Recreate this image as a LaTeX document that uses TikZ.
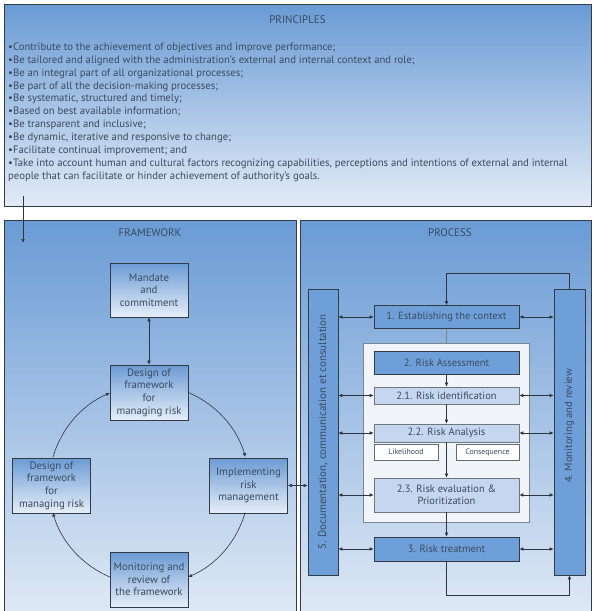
\documentclass[tikz,border=0pt]{standalone}
\usepackage{fontspec}
\setmainfont{PT Sans}
\usetikzlibrary{arrows.meta,calc}
\definecolor{txt}{HTML}{3B4A5F}
\definecolor{edge}{HTML}{333B47}
\definecolor{ptop}{HTML}{6A9BD5}
\definecolor{pbot}{HTML}{E2EBF6}
\definecolor{btop}{HTML}{6B9BD4}
\definecolor{bbot}{HTML}{E6EEF8}
\definecolor{midblue}{HTML}{6F9FD8}
\definecolor{lightblue}{HTML}{C4D7EE}
\definecolor{contfill}{HTML}{F1F5FA}
\definecolor{contedge}{HTML}{7D8590}
\definecolor{lineclr}{HTML}{2E3440}
\begin{document}
\begin{tikzpicture}[x=1pt,y=1pt,
  panel/.style={draw=edge,line width=0.9pt,top color=ptop,bottom color=pbot,inner sep=0pt},
  title/.style={text=txt,font=\fontsize{11}{13}\selectfont,inner sep=0pt},
  fbox/.style={draw=edge,line width=0.7pt,top color=btop,bottom color=bbot,minimum width=78pt,minimum height=55pt,inner sep=1pt,align=center,text=txt,font=\fontsize{10.8}{12.6}\selectfont},
  bar/.style={draw=edge,line width=0.7pt,fill=midblue,minimum width=30pt,minimum height=286pt,inner sep=0pt,text=txt,font=\fontsize{11}{12}\selectfont},
  darkbox/.style={draw=edge,line width=0.7pt,fill=midblue,minimum width=145pt,inner sep=0pt,text=txt,font=\fontsize{10.5}{12}\selectfont},
  lightbox/.style={draw=edge!70,line width=0.7pt,fill=lightblue,minimum width=145pt,inner sep=0pt,text=txt,align=center,font=\fontsize{10.5}{12.5}\selectfont},
  smallbox/.style={draw=edge!75,line width=0.6pt,fill=white,minimum height=16pt,inner sep=0pt,text=txt,font=\fontsize{7.9}{9}\selectfont},
  arr/.style={draw=lineclr,line width=0.6pt,-{Latex[length=4pt,width=3.6pt]}},
  darr/.style={draw=lineclr,line width=0.6pt,{Latex[length=4pt,width=3.6pt]}-{Latex[length=4pt,width=3.6pt]}},
  plain/.style={draw=contedge,line width=0.8pt}
]
\useasboundingbox (0,0) rectangle (595,-611);
\clip (0,0) rectangle (595,-611);

% ---------- PRINCIPLES ----------
\node[panel,minimum width=587pt,minimum height=202pt] (principles) at (297.5,-105) {};
\node[title] (ptitle) at (297.5,-20) {PRINCIPLES};
\node[anchor=north west,inner sep=0pt,align=left,text=txt,font=\fontsize{10.7}{12.9}\selectfont] (plist) at (8,-42.5) {%
\textbullet Contribute to the achievement of objectives and improve performance;\\
\textbullet Be tailored and aligned with the administration’s external and internal context and role;\\
\textbullet Be an integral part of all organizational processes;\\
\textbullet Be part of all the decision-making processes;\\
\textbullet Be systematic, structured and timely;\\
\textbullet Based on best available information;\\
\textbullet Be transparent and inclusive;\\
\textbullet Be dynamic, iterative and responsive to change;\\
\textbullet Facilitate continual improvement; and\\
\textbullet Take into account human and cultural factors recognizing capabilities, perceptions and intentions of external and internal\\
people that can facilitate or hinder achievement of authority’s goals.};

% ---------- FRAMEWORK ----------
\node[panel,minimum width=292pt,minimum height=405pt] (framework) at (150,-422.5) {};
\node[title] (ftitle) at (150,-233) {FRAMEWORK};

\coordinate (p0) at (23,-196);
\coordinate (p1) at (23,-243);
\draw[arr] (p0) -- (p1);

\node[fbox,minimum height=54pt] (mandate) at (149,-290) {Mandate\\and\\commitment};
\node[fbox] (design) at (149,-392.5) {Design of\\framework\\for\\managing risk};
\node[fbox] (designL) at (51.5,-485.5) {Design of\\framework\\for\\managing risk};
\node[fbox] (impl) at (248.5,-485.5) {Implementing\\risk\\management};
\node[fbox] (monit) at (149,-579.5) {Monitoring and\\review of\\the framework};

\draw[darr] (mandate.south) -- (design.north);

\coordinate (C) at (149,-485);
\draw[arr] (design.east) arc[start angle=67,end angle=16,radius=100];
\draw[arr] ($(C)+(-16:100)$) arc[start angle=-16,end angle=-67,radius=100];
\draw[arr] ($(C)+(-113:100)$) arc[start angle=-113,end angle=-164,radius=100];
\draw[arr] ($(C)+(164:100)$) arc[start angle=164,end angle=113,radius=100];

% ---------- PROCESS ----------
\node[panel,minimum width=291pt,minimum height=405pt] (process) at (445.5,-422.5) {};
\node[title] (prtitle) at (450,-233) {PROCESS};

\node[bar] (doc) at (323,-432) {\rotatebox{90}{5. Documentation, communication et consultation}};
\node[bar,minimum width=31pt] (mon) at (569.5,-432) {};
\node[text=txt,font=\fontsize{10.6}{12}\selectfont,rotate=90,inner sep=0pt] (montext) at (569.5,-426) {4. Monitoring and review};

\node[draw=contedge,line width=0.8pt,fill=contfill,minimum width=166pt,minimum height=179pt,inner sep=0pt] (cont) at (446,-432.5) {};

\node[darkbox,minimum height=23pt] (ctx) at (446.5,-317) {1. Establishing the context};
\node[darkbox,minimum height=23pt] (assess) at (446.5,-362.5) {2. Risk Assessment};
\node[lightbox,minimum height=17pt] (ident) at (446.5,-395.5) {2.1. Risk identification};
\node[lightbox,minimum height=18pt] (analysis) at (446.5,-433) {2.2. Risk Analysis};
\node[smallbox,minimum width=64pt] (like) at (406,-452) {Likelihood};
\node[smallbox,minimum width=63pt] (cons) at (487.5,-452) {Consequence};
\node[lightbox,minimum height=34pt] (evalu) at (446.5,-495) {2.3. Risk evaluation \&\\Prioritization};
\node[darkbox,minimum height=24pt] (treat) at (446.5,-549) {3. Risk treatment};

\draw[plain] (ctx.south) -- (ctx.south |- cont.north);
\draw[arr] (assess.south) -- (ident.north);
\draw[arr] (ident.south) -- (analysis.north);
\draw[arr] (analysis.south) -- (evalu.north);
\draw[arr] (evalu.south) -- (treat.north);

\draw[arr] (mon.north) -- ++(0,15) -| (ctx.north);
\draw[arr] (treat.south) -- ++(0,-34) -| (mon.south);

\foreach \b in {ctx,ident,analysis,evalu,treat}{
  \draw[darr] (doc.east |- \b.west) -- (\b.west);
  \draw[darr] (\b.east) -- (mon.west |- \b.east);
}

\draw[darr] (impl.east) -- (doc.west |- impl.east);
\end{tikzpicture}
\end{document}
